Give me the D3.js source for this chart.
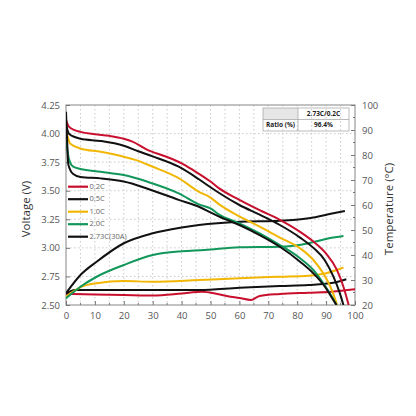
<!DOCTYPE html>
<html><head><meta charset="utf-8">
<script src="https://cdn.jsdelivr.net/npm/d3@7/dist/d3.min.js"></script>
<style>body{margin:0;background:#fff}svg{display:block}</style>
</head><body>
<script>
// ---- data (x = capacity %, V = voltage, T = temperature) ----
const xTicks = [0,10,20,30,40,50,60,70,80,90,100];
const vTicks = [2.50,2.75,3.00,3.25,3.50,3.75,4.00,4.25];
const tTicks = [20,30,40,50,60,70,80,90,100];
const seriesNames = ["0.2C","0.5C","1.0C","2.0C","2.73C(30A)"];
const seriesColors = ["#c8102e","#111111","#f2b705","#11975a","#111111"];

const volt02 = [[0,4.12],[1,4.06],[3,4.03],[5,4.015],[10,3.995],[15,3.98],[20,3.955],[23,3.93],[28,3.86],[35,3.795],[40,3.74],[44,3.68],[50,3.58],[53,3.52],[60,3.42],[67,3.33],[74,3.245],[81,3.14],[85.6,3.055],[90,2.95],[93.7,2.81],[96,2.66],[97.8,2.5]];
const volt05 = [[0,4.08],[1,4.0],[3,3.97],[5,3.955],[12,3.935],[20,3.893],[25,3.845],[30,3.8],[39,3.71],[46,3.6],[50,3.53],[53,3.48],[60,3.375],[67,3.29],[74,3.2],[81,3.09],[85.6,3.0],[89.6,2.89],[92.5,2.75],[94.8,2.6],[96,2.5]];
const volt10 = [[0,4.02],[0.5,3.98],[1.5,3.91],[5,3.87],[12,3.84],[20,3.797],[24,3.77],[30,3.71],[39,3.61],[46,3.49],[50,3.44],[53,3.38],[60,3.275],[67,3.185],[74,3.09],[81,2.996],[85.6,2.894],[89,2.777],[92,2.63],[93.8,2.5]];
const volt20 = [[0,3.95],[0.5,3.85],[1,3.78],[2.5,3.71],[5,3.69],[12,3.666],[20,3.637],[28,3.58],[39,3.477],[46,3.38],[50,3.345],[53,3.29],[60,3.215],[67,3.127],[74,3.025],[81,2.909],[85.6,2.806],[89,2.69],[92,2.573],[93.6,2.5]];
const volt273 = [[0,4.19],[0.3,4.0],[0.8,3.73],[2.5,3.646],[5,3.62],[12,3.608],[20,3.58],[28,3.52],[39,3.42],[46,3.36],[50,3.31],[53,3.273],[60,3.2],[67,3.112],[74,3.01],[81,2.879],[85.6,2.777],[89.6,2.66],[92.5,2.544],[93.6,2.5]];

const temp02 = [[0,24.5],[10,24.2],[20,24],[30,23.8],[40,24.6],[47,25.3],[52,24.5],[56,23.5],[60,22.8],[64,22],[67,23.6],[74,24.4],[84,24.9],[92,25.3],[100,26.3]];
const temp05 = [[0,24.5],[3,26],[10,26],[20,26],[30,26],[46,26],[60,26.9],[74,27.6],[84,28],[92.5,28.9],[97,30.3]];
const temp10 = [[0,23.3],[5,27.1],[10.6,28.7],[20,29.6],[30,29.3],[46,30],[60,30.7],[74,31.3],[84,31.7],[90,32.7],[96,35]];
const temp20 = [[0,22.7],[5,27.3],[10.6,31.3],[20,36],[30,40],[40,41.5],[48,42],[60,43.1],[74,43.3],[84,44.7],[91,46.7],[96,47.6]];
const temp273 = [[0,24.7],[5,32],[10.6,37.3],[20,44.7],[30,48.7],[40,51],[46,52],[60,53.3],[74,53.7],[84,54.7],[92.5,56.7],[96.5,57.6]];

const tableHeader = ["", "2.73C/0.2C"];
const tableRow = ["Ratio (%)", "96.4%"];

// ---- layout ----
const W = 416, H = 416;
const m = {l:66, r:355, t:105, b:305};
const svg = d3.select("body").append("svg").attr("width",W).attr("height",H);
const x = d3.scaleLinear().domain([0,100]).range([m.l,m.r]);
const yV = d3.scaleLinear().domain([2.5,4.25]).range([m.b,m.t]);
const yT = d3.scaleLinear().domain([20,100]).range([m.b,m.t]);
const font = "'Open Sans', 'DejaVu Sans', sans-serif";

// grid
const g = svg.append("g");
g.selectAll(".gx").data(d3.range(5,100,5)).enter().append("line")
  .attr("x1",d=>x(d)).attr("x2",d=>x(d)).attr("y1",m.t).attr("y2",m.b)
  .attr("stroke","#c4c4c4").attr("stroke-width",0.9).attr("stroke-dasharray","1.5,2.5");
g.selectAll(".gy").data(vTicks.slice(1,-1)).enter().append("line")
  .attr("x1",m.l).attr("x2",m.r).attr("y1",d=>yV(d)).attr("y2",d=>yV(d))
  .attr("stroke","#c4c4c4").attr("stroke-width",0.9).attr("stroke-dasharray","1.5,2.5");

// frame
svg.append("rect").attr("x",m.l).attr("y",m.t).attr("width",m.r-m.l).attr("height",m.b-m.t)
  .attr("fill","none").attr("stroke","#9a9a9a").attr("stroke-width",1.2);

// axes
const axB = d3.axisBottom(x).tickValues(xTicks).tickSize(-4).tickPadding(7).tickFormat(d3.format("d"));
const axL = d3.axisLeft(yV).tickValues(vTicks).tickSize(-4).tickPadding(6).tickFormat(d3.format(".2f"));
const axR = d3.axisRight(yT).tickValues(tTicks).tickSize(-4).tickPadding(7).tickFormat(d3.format("d"));
function styleAx(sel){
  sel.select(".domain").remove();
  sel.selectAll("line").attr("stroke","#777");
  sel.selectAll("text").attr("fill","#555").style("font-family",font).style("font-size","9.5px");
}
svg.append("g").attr("transform",`translate(0,${m.b})`).call(axB).call(styleAx);
svg.append("g").attr("transform",`translate(${m.l},0)`).call(axL).call(styleAx);
svg.append("g").attr("transform",`translate(${m.r},0)`).call(axR).call(styleAx);
// minor ticks
const minorX = d3.range(5,100,10);
svg.append("g").selectAll("line").data(minorX).enter().append("line")
  .attr("x1",d=>x(d)).attr("x2",d=>x(d)).attr("y1",m.b).attr("y2",m.b-2).attr("stroke","#777");
const minorT = d3.range(25,100,10);
svg.append("g").selectAll("line").data(minorT).enter().append("line")
  .attr("x1",m.r).attr("x2",m.r-2).attr("y1",d=>yT(d)).attr("y2",d=>yT(d)).attr("stroke","#777");

// axis titles
svg.append("text").attr("transform",`translate(27,209) rotate(-90)`).attr("text-anchor","middle")
  .attr("dominant-baseline","middle").style("font-family",font).style("font-size","11.5px").attr("fill","#333")
  .text("Voltage (V)");
svg.append("text").attr("transform",`translate(390,209) rotate(-90)`).attr("text-anchor","middle")
  .attr("dominant-baseline","middle").style("font-family",font).style("font-size","11.5px").attr("fill","#333")
  .text("Temperature (°C)");

// curves
const clip = svg.append("clipPath").attr("id","c").append("rect")
  .attr("x",m.l).attr("y",m.t).attr("width",m.r-m.l).attr("height",m.b-m.t);
const lineV = d3.line().x(d=>x(d[0])).y(d=>yV(d[1])).curve(d3.curveMonotoneX);
const lineT = d3.line().x(d=>x(d[0])).y(d=>yT(d[1])).curve(d3.curveMonotoneX);
const vol = [volt02,volt05,volt10,volt20,volt273];
const tem = [temp02,temp05,temp10,temp20,temp273];
const cg = svg.append("g").attr("clip-path","url(#c)");
tem.forEach((d,i)=>cg.append("path").attr("d",lineT(d)).attr("fill","none")
  .attr("stroke",seriesColors[i]).attr("stroke-width",2));
vol.forEach((d,i)=>cg.append("path").attr("d",lineV(d)).attr("fill","none")
  .attr("stroke",seriesColors[i]).attr("stroke-width",2));

// legend
const lg = svg.append("g");
seriesNames.forEach((n,i)=>{
  const yy = 186.7 + i*12.5;
  lg.append("line").attr("x1",68).attr("x2",88).attr("y1",yy).attr("y2",yy)
    .attr("stroke",seriesColors[i]).attr("stroke-width",2.2);
  lg.append("text").attr("x",89.5).attr("y",yy).attr("dominant-baseline","middle")
    .style("font-family",font).style("font-size","7.5px").attr("fill","#666").text(n);
});

// table
const tb = svg.append("g");
const tx0=263, tx1=298, tx2=349, ty0=108, ty1=119.5, ty2=131;
tb.append("rect").attr("x",tx0).attr("y",ty0).attr("width",tx1-tx0).attr("height",ty1-ty0).attr("fill","#e6e6e6");
tb.append("rect").attr("x",tx0).attr("y",ty0).attr("width",tx2-tx0).attr("height",ty2-ty0)
  .attr("fill","none").attr("stroke","#aaa").attr("stroke-width",0.8);
tb.append("line").attr("x1",tx0).attr("x2",tx2).attr("y1",ty1).attr("y2",ty1).attr("stroke","#aaa").attr("stroke-width",0.8);
tb.append("line").attr("x1",tx1).attr("x2",tx1).attr("y1",ty0).attr("y2",ty2).attr("stroke","#aaa").attr("stroke-width",0.8);
const cells = [[tableHeader[1],(tx1+tx2)/2,(ty0+ty1)/2],[tableRow[0],(tx0+tx1)/2,(ty1+ty2)/2],[tableRow[1],(tx1+tx2)/2,(ty1+ty2)/2]];
cells.forEach(c=>tb.append("text").attr("x",c[1]).attr("y",c[2]+0.5).attr("text-anchor","middle")
  .attr("dominant-baseline","middle").style("font-family",font).style("font-size","6.5px")
  .style("font-weight","bold").attr("fill","#222").text(c[0]));
</script>
</body></html>
